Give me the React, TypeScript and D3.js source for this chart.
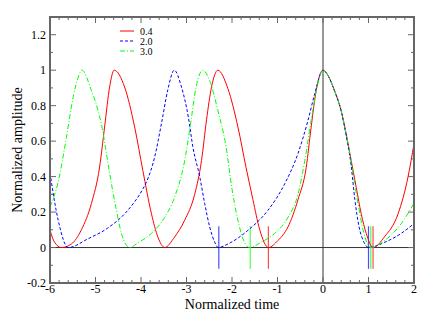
import React from "react";
import * as d3 from "d3";

// ---- data ----
const redX = [-6, -5.9, -5.75, -5.53, -5.31, -5.09, -4.91, -4.8, -4.69, -4.59, -4.36, -4.14, -3.96, -3.77, -3.63, -3.48, -3.26, -3.04, -2.82, -2.67, -2.56, -2.45, -2.31, -2.09, -1.87, -1.69, -1.54, -1.39, -1.2, -0.99, -0.77, -0.55, -0.37, -0.26, -0.15, 0, 0.11, 0.25, 0.4, 0.51, 0.62, 0.73, 0.84, 0.95, 1.1, 1.35, 1.65, 1.87, 2.0];
const redY = [0.097, 0.03, 0, 0.02, 0.1, 0.248, 0.454, 0.68, 0.905, 1, 0.905, 0.68, 0.435, 0.19, 0.06, 0, 0.06, 0.154, 0.3, 0.49, 0.72, 0.905, 1, 0.896, 0.68, 0.45, 0.27, 0.1, 0, 0.04, 0.116, 0.27, 0.45, 0.68, 0.886, 1, 0.97, 0.886, 0.77, 0.64, 0.49, 0.34, 0.19, 0.08, 0, 0.06, 0.19, 0.4, 0.586];

const blueX = [-6, -5.82, -5.6, -5.16, -4.73, -4.29, -3.96, -3.88, -3.7, -3.55, -3.41, -3.27, -3.11, -2.96, -2.86, -2.71, -2.6, -2.49, -2.38, -2.3, -2.09, -1.65, -1.21, -0.84, -0.55, -0.33, -0.18, 0, 0.11, 0.25, 0.4, 0.51, 0.62, 0.7, 0.79, 0.9, 1.0, 1.36, 1.72, 2.0];
const blueY = [0.42, 0.154, 0, 0.05, 0.11, 0.21, 0.33, 0.37, 0.51, 0.7, 0.89, 1, 0.905, 0.736, 0.567, 0.4, 0.248, 0.116, 0.03, 0, 0.02, 0.097, 0.21, 0.36, 0.53, 0.717, 0.868, 1, 0.97, 0.886, 0.77, 0.63, 0.46, 0.27, 0.12, 0.03, 0, 0.03, 0.08, 0.135];

const greenX = [-6, -5.82, -5.64, -5.49, -5.38, -5.3, -5.09, -4.945, -4.85, -4.76, -4.65, -4.54, -4.43, -4.32, -4.25, -4.07, -3.77, -3.48, -3.26, -3.04, -2.9, -2.79, -2.64, -2.49, -2.31, -2.13, -2.0, -1.87, -1.76, -1.61, -1.36, -1.06, -0.77, -0.55, -0.4, -0.26, -0.13, 0, 0.11, 0.25, 0.4, 0.51, 0.62, 0.77, 0.88, 1.05, 1.36, 1.72, 2.0];
const greenY = [0.23, 0.37, 0.62, 0.85, 0.96, 1, 0.886, 0.773, 0.67, 0.53, 0.36, 0.21, 0.08, 0.013, 0, 0.026, 0.08, 0.17, 0.285, 0.49, 0.717, 0.905, 1, 0.94, 0.773, 0.567, 0.33, 0.154, 0.05, 0, 0.03, 0.08, 0.17, 0.3, 0.49, 0.717, 0.905, 1, 0.97, 0.886, 0.77, 0.64, 0.48, 0.25, 0.1, 0, 0.04, 0.135, 0.25];

const seriesNames = ["0.4", "2.0", "3.0"];
const seriesColors = ["#ff0000", "#0000ff", "#00ff00"];
const seriesDash = ["", "3,2", "5,2,1,2"];
const markerX = [[-1.2, 1.1], [-2.29, 1.0], [-1.6, 1.05]];

const xTicks = [-6, -5, -4, -3, -2, -1, 0, 1, 2];
const yTicks = [-0.2, 0, 0.2, 0.4, 0.6, 0.8, 1, 1.2];

const serif = { fontFamily: "Liberation Serif" };

export default function App() {
  const W = 431, H = 333;
  const L = 50, R = 414, T = 17, B = 283;
  const x = d3.scaleLinear().domain([-6, 2]).range([L, R]);
  const y = d3.scaleLinear().domain([-0.2, 1.3]).range([B, T]);
  const line = d3.line<[number, number]>().x(d => x(d[0])).y(d => y(d[1])).curve(d3.curveMonotoneX);
  const series = [
    d3.zip(redX, redY) as [number, number][],
    d3.zip(blueX, blueY) as [number, number][],
    d3.zip(greenX, greenY) as [number, number][],
  ];
  const xMinor = d3.range(-6, 2.0001, 0.2);
  const yMinor = d3.range(-0.2, 1.3001, 0.1);
  const axisColor = "#666";
  const fmt = (v: number) => (Math.abs(v) < 1e-9 ? "0" : String(+v.toFixed(1)));
  return (
    <svg width={W} height={H} style={{ position: "absolute", left: 0, top: 0, background: "#fff" }}>
      <defs>
        <clipPath id="clip"><rect x={L} y={T} width={R - L} height={B - T} /></clipPath>
      </defs>
      {/* zero lines */}
      <line x1={x(0)} x2={x(0)} y1={T} y2={B} stroke="#333" strokeWidth={1} />
      <line x1={L} x2={R} y1={y(0)} y2={y(0)} stroke="#333" strokeWidth={1} />
      {/* markers */}
      {markerX.map((ms, i) => ms.map((m, j) => (
        <line key={`m${i}${j}`} x1={x(m)} x2={x(m)} y1={y(0.12)} y2={y(-0.12)} stroke={seriesColors[i]} strokeWidth={1.2} opacity={0.7} />
      )))}
      {/* curves */}
      <g clipPath="url(#clip)">
        {series.map((s, i) => (
          <path key={i} d={line(s) || ""} fill="none" stroke={seriesColors[i]} strokeWidth={1} strokeDasharray={seriesDash[i]} />
        ))}
      </g>
      {/* ticks */}
      {xMinor.map((v, i) => {
        const major = Math.abs(v - Math.round(v)) < 1e-6;
        const len = major ? 6 : 3;
        return (
          <g key={`xt${i}`} stroke={axisColor} strokeWidth={1}>
            <line x1={x(v)} x2={x(v)} y1={B} y2={B - len} />
            <line x1={x(v)} x2={x(v)} y1={T} y2={T + len} />
          </g>
        );
      })}
      {yMinor.map((v, i) => {
        const major = Math.abs(v * 5 - Math.round(v * 5)) < 1e-6;
        const len = major ? 6 : 3;
        return (
          <g key={`yt${i}`} stroke={axisColor} strokeWidth={1}>
            <line x1={L} x2={L + len} y1={y(v)} y2={y(v)} />
            <line x1={R} x2={R - len} y1={y(v)} y2={y(v)} />
          </g>
        );
      })}
      {/* frame */}
      <rect x={L} y={T} width={R - L} height={B - T} fill="none" stroke={axisColor} strokeWidth={2} />
      {/* tick labels */}
      {xTicks.map(v => (
        <text key={`xl${v}`} x={x(v)} y={B + 10} fontSize={12} textAnchor="middle" fill="#000" style={serif}>{fmt(v)}</text>
      ))}
      {yTicks.map(v => (
        <text key={`yl${v}`} x={L - 4} y={y(v) + 4} fontSize={12} textAnchor="end" fill="#000" style={serif}>{fmt(v)}</text>
      ))}
      {/* titles */}
      <text x={(L + R) / 2} y={309} fontSize={14} textAnchor="middle" fill="#000" style={serif}>Normalized time</text>
      <text transform={`translate(22,${(T + B) / 2}) rotate(-90)`} fontSize={14} textAnchor="middle" fill="#000" style={serif}>Normalized amplitude</text>
      {/* legend */}
      {seriesNames.map((n, i) => (
        <g key={`lg${i}`}>
          <line x1={120} x2={134} y1={31 + i * 10} y2={31 + i * 10} stroke={seriesColors[i]} strokeWidth={1} strokeDasharray={seriesDash[i]} />
          <text x={140} y={34.5 + i * 10} fontSize={10} fill="#000" style={serif}>{n}</text>
        </g>
      ))}
    </svg>
  );
}
